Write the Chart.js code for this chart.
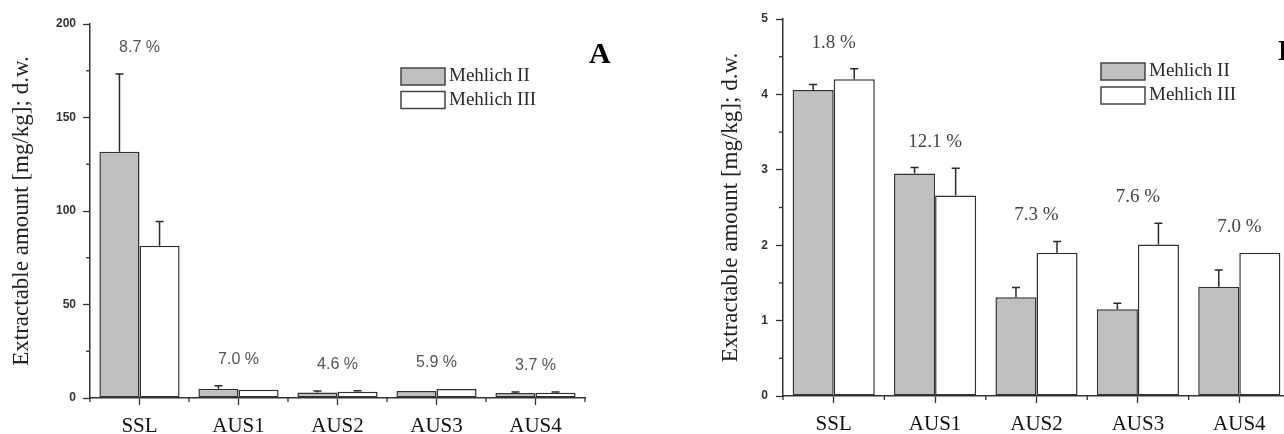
<!DOCTYPE html>
<html>
<head>
<meta charset="utf-8">
<script src="https://cdn.jsdelivr.net/npm/chart.js@4.4.1/dist/chart.umd.min.js"></script>
<style>
    html, body {
        margin: 0;
        padding: 0;
        background: #ffffff;
        width: 1284px;
        height: 434px;
        overflow: hidden;
    }
    canvas {
        position: absolute;
        top: 0;
    }
    #chartA { left: 0; }
    #chartB { left: 693px; }
</style>
</head>
<body>

<canvas id="chartA" width="640" height="434"></canvas>
<canvas id="chartB" width="640" height="434"></canvas>

<script>

/* ==========================================
        DATA
========================================== */

const categories = ["SSL", "AUS1", "AUS2", "AUS3", "AUS4"];

const seriesNames = ["Mehlich II", "Mehlich III"];

// panel A (mg/kg)
const mehlich2A = [131.7, 5.0, 3.0, 3.7, 2.7];
const mehlich2ErrA = [41.6, 1.6, 0.7, 0, 0.5];
const mehlich3A = [81.4, 4.4, 3.4, 4.8, 2.8];
const mehlich3ErrA = [13.0, 0, 0.5, 0, 0.4];
const percentA = ["8.7 %", "7.0 %", "4.6 %", "5.9 %", "3.7 %"];
const ticksA = [0, 50, 100, 150, 200];

// panel B (mg/kg)
const mehlich2B = [4.06, 2.95, 1.31, 1.15, 1.45];
const mehlich2ErrB = [0.07, 0.08, 0.13, 0.08, 0.22];
const mehlich3B = [4.20, 2.66, 1.90, 2.01, 1.90];
const mehlich3ErrB = [0.14, 0.36, 0.15, 0.28, 0];
const percentB = ["1.8 %", "12.1 %", "7.3 %", "7.6 %", "7.0 %"];
const ticksB = [0, 1, 2, 3, 4, 5];

const AXIS_TITLE = "Extractable amount [mg/kg]; d.w.";

/* ==========================================
        EXTRAS PLUGIN
        error bars, % labels, minor ticks,
        legend boxes, panel letter
========================================== */

const extrasPlugin = {

    id: "extras",

    afterDatasetsDraw(chart, args, opts) {

        const ctx = chart.ctx;
        const y = chart.scales.y;
        const x = chart.scales.x;

        ctx.save();
        ctx.strokeStyle = "#2b2b2b";
        ctx.lineWidth = 1.5;

        const tops = categories.map(() => Infinity);

        chart.data.datasets.forEach((ds, di) => {

            const meta = chart.getDatasetMeta(di);

            meta.data.forEach((bar, i) => {

                const err = ds.errors[i];
                const yTop = y.getPixelForValue(ds.data[i] + err);

                tops[i] = Math.min(tops[i], yTop, bar.y);

                if (err > 0) {
                    ctx.beginPath();
                    ctx.moveTo(bar.x, bar.y);
                    ctx.lineTo(bar.x, yTop);
                    ctx.moveTo(bar.x - 4, yTop);
                    ctx.lineTo(bar.x + 4, yTop);
                    ctx.stroke();
                }

            });

        });

        // percent labels above each group
        ctx.fillStyle = opts.pctColor;
        ctx.font = opts.pctFont;
        ctx.textAlign = "center";
        ctx.textBaseline = "middle";

        opts.percents.forEach((txt, i) => {
            ctx.fillText(txt, x.getPixelForValue(i), tops[i] - 26);
        });

        ctx.restore();

    },

    afterDraw(chart, args, opts) {

        const ctx = chart.ctx;
        const x = chart.scales.x;
        const y = chart.scales.y;
        const area = chart.chartArea;

        ctx.save();
        ctx.strokeStyle = "#333333";
        ctx.lineWidth = 1.3;

        // minor y ticks halfway between labelled ticks
        const yt = y.ticks.map(t => t.value);
        for (let i = 0; i < yt.length - 1; i++) {
            const py = y.getPixelForValue((yt[i] + yt[i + 1]) / 2);
            ctx.beginPath();
            ctx.moveTo(area.left - 4, py);
            ctx.lineTo(area.left, py);
            ctx.stroke();
        }

        // minor x ticks on category boundaries
        for (let i = 0; i <= categories.length; i++) {
            const px = x.getPixelForValue(i - 0.5);
            ctx.beginPath();
            ctx.moveTo(px, area.bottom);
            ctx.lineTo(px, area.bottom + 4);
            ctx.stroke();
        }

        // legend
        const lg = opts.legend;
        ctx.font = "19px 'Liberation Serif'";
        ctx.textAlign = "left";
        ctx.textBaseline = "middle";

        chart.data.datasets.forEach((ds, di) => {

            const by = lg.y + di * lg.gap;

            ctx.fillStyle = ds.backgroundColor;
            ctx.fillRect(lg.x, by, 44, 17);
            ctx.strokeStyle = "#444444";
            ctx.lineWidth = 1.5;
            ctx.strokeRect(lg.x, by, 44, 17);

            ctx.fillStyle = "#2a2a2a";
            ctx.fillText(ds.label, lg.x + 48, by + 8.5);

        });

        // panel letter
        ctx.font = "bold 30px 'Liberation Serif'";
        ctx.fillStyle = "#000000";
        ctx.textAlign = "left";
        ctx.textBaseline = "alphabetic";
        ctx.fillText(opts.letter, opts.letterX, opts.letterY);

        ctx.restore();

    }

};

/* ==========================================
        CREATE CHART
========================================== */

function makeChart(id, cfg) {

    const ctx = document.getElementById(id).getContext("2d");

    return new Chart(ctx, {

        type: "bar",

        data: {

            labels: categories,

            datasets: [
                {
                    label: seriesNames[0],
                    data: cfg.m2,
                    errors: cfg.e2,
                    backgroundColor: "#c0c0c0",
                    borderColor: "#333333",
                    borderWidth: 1.5,
                    borderSkipped: false
                },
                {
                    label: seriesNames[1],
                    data: cfg.m3,
                    errors: cfg.e3,
                    backgroundColor: "#ffffff",
                    borderColor: "#333333",
                    borderWidth: 1.5,
                    borderSkipped: false
                }
            ]

        },

        options: {

            responsive: false,
            animation: false,
            events: [],

            categoryPercentage: 0.81,
            barPercentage: 1.0,

            layout: {
                padding: {
                    left: 0,
                    right: cfg.padRight,
                    top: cfg.padTop,
                    bottom: 0
                }
            },

            plugins: {
                legend: { display: false },
                tooltip: { enabled: false },
                extras: {
                    percents: cfg.percents,
                    pctFont: cfg.pctFont,
                    pctColor: cfg.pctColor,
                    legend: cfg.legend,
                    letter: cfg.letter,
                    letterX: cfg.letterX,
                    letterY: cfg.letterY
                }
            },

            scales: {

                x: {
                    grid: {
                        display: true,
                        drawOnChartArea: false,
                        offset: false,
                        tickLength: 7,
                        tickColor: "#333333",
                        tickWidth: 1.3
                    },
                    border: {
                        color: "#333333",
                        width: 1.5
                    },
                    ticks: {
                        color: "#111111",
                        padding: 9,
                        font: {
                            family: "Liberation Serif",
                            size: 21
                        }
                    },
                    afterFit(scale) {
                        scale.height = cfg.xHeight;
                    }
                },

                y: {
                    min: cfg.yTicks[0],
                    max: cfg.yTicks[cfg.yTicks.length - 1],
                    afterBuildTicks(scale) {
                        scale.ticks = cfg.yTicks.map(v => ({ value: v }));
                    },
                    grid: {
                        display: true,
                        drawOnChartArea: false,
                        tickLength: 7,
                        tickColor: "#333333",
                        tickWidth: 1.3
                    },
                    border: {
                        color: "#333333",
                        width: 1.5
                    },
                    ticks: {
                        color: "#333333",
                        padding: cfg.yTickPad,
                        font: {
                            family: "Liberation Sans",
                            size: 12,
                            weight: "bold"
                        }
                    },
                    title: {
                        display: true,
                        text: AXIS_TITLE,
                        color: "#222222",
                        padding: { top: cfg.titlePad, bottom: 0 },
                        font: {
                            family: "Liberation Serif",
                            size: 23
                        }
                    },
                    afterFit(scale) {
                        scale.width = 90;
                    }
                }

            }

        },

        plugins: [extrasPlugin]

    });

}

/* ==========================================
        LOAD
========================================== */

makeChart("chartA", {
    m2: mehlich2A,
    e2: mehlich2ErrA,
    m3: mehlich3A,
    e3: mehlich3ErrA,
    percents: percentA,
    yTicks: ticksA,
    pctFont: "16px 'Liberation Sans'",
    pctColor: "#555555",
    padRight: 55,
    padTop: 24,
    xHeight: 36,
    yTickPad: 7,
    titlePad: 8,
    legend: { x: 401, y: 68, gap: 23.5 },
    letter: "A",
    letterX: 589,
    letterY: 63
});

makeChart("chartB", {
    m2: mehlich2B,
    e2: mehlich2ErrB,
    m3: mehlich3B,
    e3: mehlich3ErrB,
    percents: percentB,
    yTicks: ticksB,
    pctFont: "19px 'Liberation Serif'",
    pctColor: "#444444",
    padRight: 43,
    padTop: 19,
    xHeight: 38,
    yTickPad: 8,
    titlePad: 24,
    legend: { x: 408, y: 63, gap: 24 },
    letter: "B",
    letterX: 585,
    letterY: 60
});

</script>

</body>
</html>
